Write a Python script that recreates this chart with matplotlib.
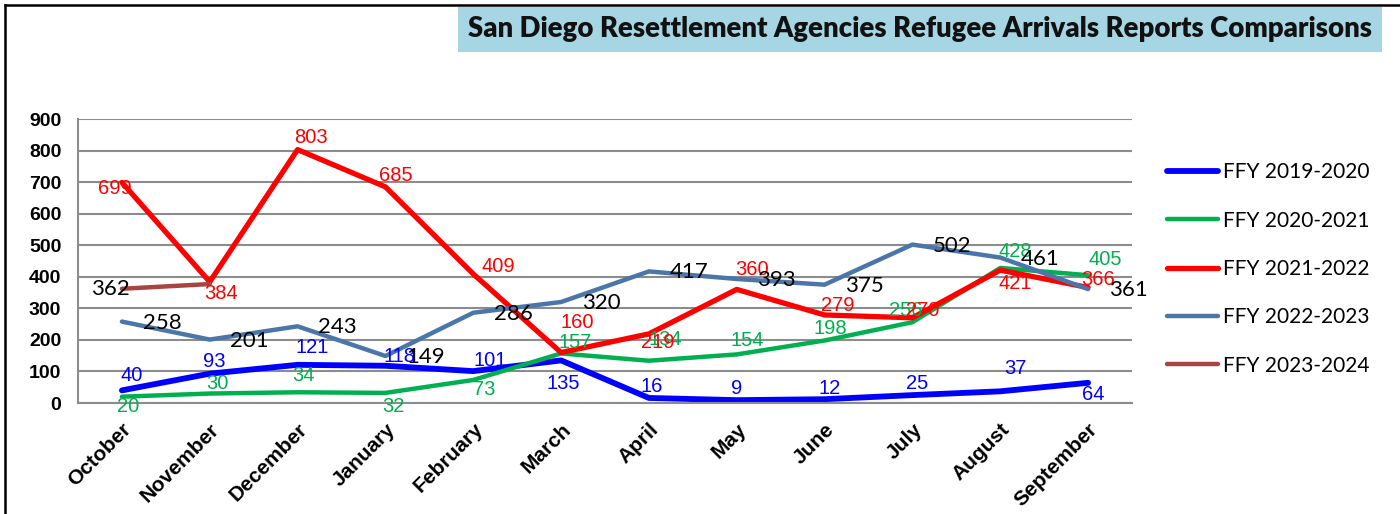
import numpy as np
import matplotlib
matplotlib.use("Agg")
import matplotlib.pyplot as plt
from matplotlib.font_manager import fontManager
from matplotlib.lines import Line2D
from matplotlib.patches import Rectangle

months = ["October", "November", "December", "January", "February", "March",
          "April", "May", "June", "July", "August", "September"]

ffy_2019_2020 = [40, 93, 121, 118, 101, 135, 16, 9, 12, 25, 37, 64]
ffy_2020_2021 = [20, 30, 34, 32, 73, 157, 134, 154, 198, 256, 428, 405]
ffy_2021_2022 = [699, 384, 803, 685, 409, 160, 219, 360, 279, 270, 421, 366]
ffy_2022_2023 = [258, 201, 243, 149, 286, 320, 417, 393, 375, 502, 461, 361]
ffy_2023_2024 = [362, 377]

series_names = ["FFY 2019-2020", "FFY 2020-2021", "FFY 2021-2022",
                "FFY 2022-2023", "FFY 2023-2024"]

title = "San Diego Resettlement Agencies Refugee Arrivals Reports Comparisons"

# label offsets in pixels (dx, dy up) - roughly where excel put them
off_blue = [(10, 15), (4, 12), (15, 17), (14, 9), (17, 11), (2, -23),
            (3, 11), (0, 12), (5, 11), (5, 12), (15, 23), (5, -12)]
off_green = [(6, -10), (8, 10), (6, 17), (8, -14), (11, -10), (14, 11),
             (16, 21), (11, 14), (6, 12), (-7, 12), (15, 16), (17, 16)]
off_red = [(-7, -6), (11, -12), (13, 12), (10, 11), (25, 7), (16, 30),
           (9, -9), (15, 20), (13, 9), (10, 7), (15, -13), (10, 8)]
off_gray = [(40, -1)] * 12
off_brown = [(-12, 0)]

names = {f.name for f in fontManager.ttflist}
narrow = "Liberation Sans Narrow" if "Liberation Sans Narrow" in names else "Liberation Sans"
calib = "Lato"

fig = plt.figure(figsize=(14, 5.14), dpi=100)
W, H = 1400, 514

def fx(px):
    return px / W

def fy(py):
    return 1 - py / H

# outer frame (only top and left visible)
fig.add_artist(Line2D([fx(5), fx(1400)], [fy(5), fy(5)], color="black", lw=1.8))
fig.add_artist(Line2D([fx(5), fx(5)], [fy(5), fy(514)], color="black", lw=1.8))

# title box
fig.add_artist(Rectangle((fx(458), fy(52)), fx(1382) - fx(458), fy(7) - fy(52),
                         facecolor="#a6d6e3", edgecolor="none"))
t = fig.text((fx(458) + fx(1382)) / 2, fy(29), title, ha="center", va="center",
             fontsize=18, fontweight="heavy", family=calib, color="#111111")
r = fig.canvas.get_renderer()
w = t.get_window_extent(r).width
t.set_fontsize(18 * 904 / w)

ax = fig.add_axes([fx(78), fy(403), fx(1132) - fx(78), fy(119) - fy(403)])
x = np.arange(len(months))

colors = ["#0000ff", "#00b050", "#ff0000", "#4a76aa", "#a94441"]
widths = [4.2, 3.2, 3.8, 3.2, 3.2]
data = [ffy_2019_2020, ffy_2020_2021, ffy_2021_2022, ffy_2022_2023, ffy_2023_2024]
offsets = [off_blue, off_green, off_red, off_gray, off_brown]
label_colors = ["#0000ff", "#00b050", "#ff0000", "black", "black"]

for vals, c, lw, name, offs, lc in zip(data, colors, widths, series_names, offsets, label_colors):
    xs = x[:len(vals)]
    ax.plot(xs, vals, color=c, lw=lw, label=name, solid_capstyle="round",
            solid_joinstyle="round")
    for xi, v, (dx, dy) in zip(xs, vals, offs):
        if lc == "black":
            fam, fs = calib, 16
        else:
            fam, fs = narrow, 14.5
        ax.annotate(str(v), (xi, v), xytext=(dx, dy), textcoords="offset pixels",
                    ha="center", va="center", color=lc, family=fam, fontsize=fs)

ax.set_xlim(-0.5, 11.5)
ax.set_ylim(0, 900)
ax.set_yticks(range(0, 901, 100))
ax.set_yticklabels([str(v) for v in range(0, 901, 100)], family=narrow,
                   fontweight="bold", fontsize=14)
ax.set_xticks(x)
ax.set_xticklabels(months, rotation=45, ha="right", rotation_mode="anchor",
                   family="Liberation Sans", fontweight="bold", fontsize=15)
ax.tick_params(length=0)
ax.tick_params(axis="y", pad=12)
ax.tick_params(axis="x", pad=12)
ax.grid(axis="y", color="#8c8c8c", lw=1.5)
ax.set_axisbelow(True)
for s in ["top", "right"]:
    ax.spines[s].set_visible(False)
for s in ["left", "bottom"]:
    ax.spines[s].set_color("#8c8c8c")
    ax.spines[s].set_linewidth(1.5)

fig.legend(loc="center left", bbox_to_anchor=(fx(1167), fy(269)), frameon=False,
           borderpad=0, borderaxespad=0, handlelength=2.45, handletextpad=0.25,
           labelspacing=1.36, prop={"family": calib, "size": 15})

fig.savefig("out.png", dpi=100)
